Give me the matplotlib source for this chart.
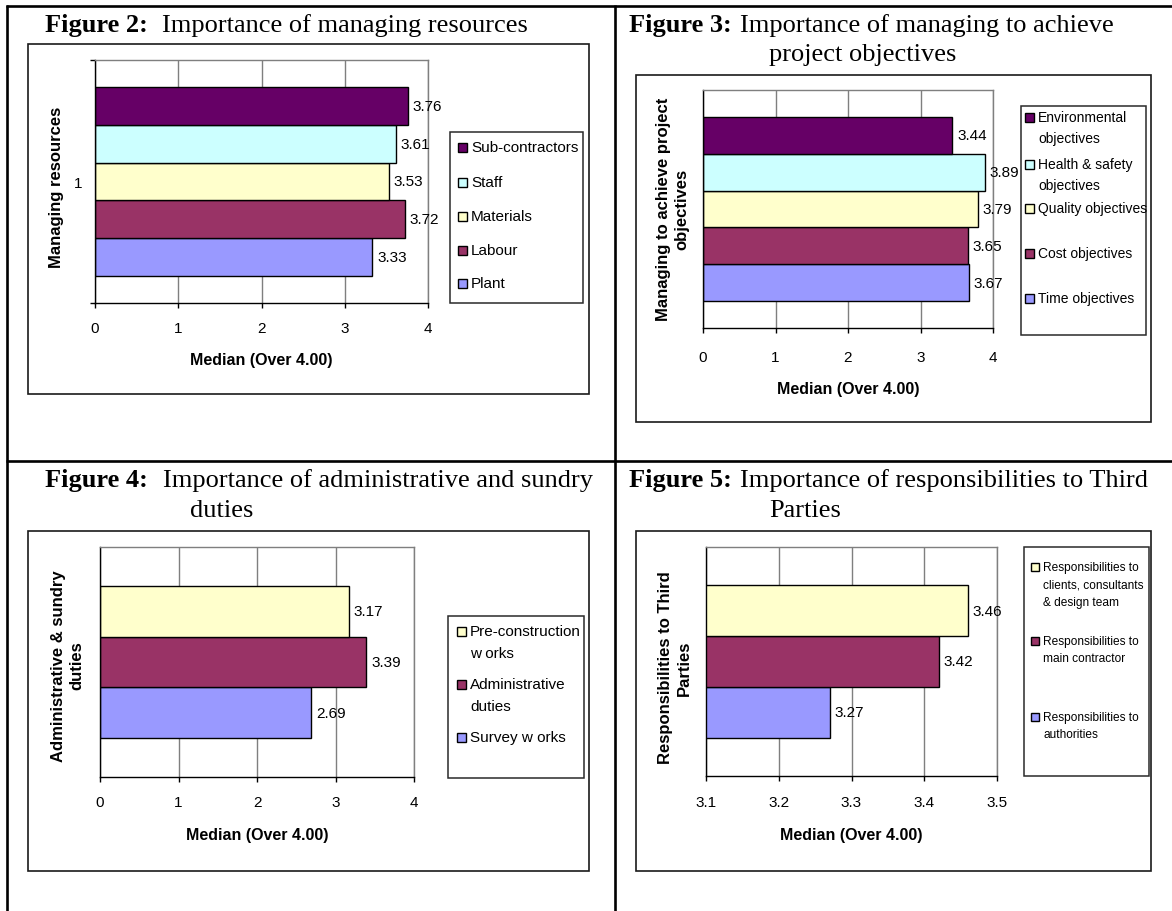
import matplotlib
matplotlib.use("Agg")
import matplotlib.pyplot as plt
from matplotlib.patches import Rectangle
from matplotlib.lines import Line2D
from matplotlib import font_manager

# ---------------- data ----------------
fig2_categories = ['Plant', 'Labour', 'Materials', 'Staff', 'Sub-contractors']
fig2_values = [3.33, 3.72, 3.53, 3.61, 3.76]
fig2_yticklabels = ['1']

fig3_categories = ['Time objectives', 'Cost objectives', 'Quality objectives',
                   'Health & safety\nobjectives', 'Environmental\nobjectives']
fig3_values = [3.67, 3.65, 3.79, 3.89, 3.44]

fig4_categories = ['Survey w orks', 'Administrative\nduties', 'Pre-construction\nw orks']
fig4_values = [2.69, 3.39, 3.17]

fig5_categories = ['Responsibilities to\nauthorities', 'Responsibilities to\nmain contractor',
                   'Responsibilities to\nclients, consultants\n& design team']
fig5_values = [3.27, 3.42, 3.46]

xticks_0_4 = [0, 1, 2, 3, 4]
fig5_xticks = [3.1, 3.2, 3.3, 3.4, 3.5]

series_colors = ['#9999FF', '#993366', '#FFFFCC', '#CCFFFF', '#660066']

titles = [
    ('Figure 2:', 'Importance of managing resources', None),
    ('Figure 3:', 'Importance of managing to achieve', 'project objectives'),
    ('Figure 4:', 'Importance of administrative and sundry', 'duties'),
    ('Figure 5:', 'Importance of responsibilities to Third', 'Parties'),
]
ylabels = ['Managing resources', 'Managing to achieve project\nobjectives',
           'Administrative & sundry\nduties', 'Responsibilities to Third\nParties']
xlabel_text = 'Median (Over 4.00)'

# ---------------- layout ----------------
W, H = 1172, 912
fig = plt.figure(figsize=(W / 100, H / 100), dpi=100)
fig.patch.set_facecolor('white')

SANS = 'Liberation Sans'
SERIF = 'Liberation Serif'
names = {f.name for f in font_manager.fontManager.ttflist}
if 'Liberation Sans Narrow' in names:
    NARROW, NARROW_SIZE = 'Liberation Sans Narrow', 10
else:
    NARROW, NARROW_SIZE = SANS, 8.6


def fx(x):
    return x / W


def fy(y):
    return 1 - y / H


def ftext(x, y, s, **kw):
    return fig.text(fx(x), fy(y), s, **kw)


def frect(x0, y0, x1, y1, **kw):
    r = Rectangle((fx(x0), fy(y1)), (x1 - x0) / W, (y1 - y0) / H,
                  transform=fig.transFigure, **kw)
    fig.patches.append(r)
    return r


def fline(xs, ys, **kw):
    fig.lines.append(Line2D([fx(x) for x in xs], [fy(y) for y in ys],
                            transform=fig.transFigure, **kw))


# outer table lines
tbl = dict(color='black', lw=1.9, solid_capstyle='butt')
fline([7, 7], [6, H], **tbl)
fline([6, W], [7, 7], **tbl)
fline([615, 615], [6, H], **tbl)
fline([6, W], [462, 462], **tbl)

panels = [
    dict(cats=fig2_categories, vals=fig2_values, xlim=(0, 4), xticks=xticks_0_4, fmt='{:.0f}',
         box=(28, 45, 589, 395), plot=(95, 61, 428, 304), group=0.774, tickpad=9.7,
         title_xy=(45, 162, 32), title2=None,
         ylab=(57, 187), xlab_y=361,
         leg_box=(450, 133, 583, 304), leg_y=[148, 183, 217, 251, 284], leg_lh=20,
         leg_mx=462, leg_tx=471, leg_font=(SANS, 11), msize=9),
    dict(cats=fig3_categories, vals=fig3_values, xlim=(0, 4), xticks=xticks_0_4, fmt='{:.0f}',
         box=(636, 76, 1151, 423), plot=(703, 91, 993, 329), group=0.773, tickpad=12.6,
         title_xy=(629, 740, 32), title2=(769, 61),
         ylab=(673, 209), xlab_y=390,
         leg_box=(1021, 107, 1146, 336), leg_y=[118, 165, 209, 254, 299], leg_lh=21,
         leg_mx=1029, leg_tx=1038, leg_font=(SANS, 10), msize=9),
    dict(cats=fig4_categories, vals=fig4_values, xlim=(0, 4), xticks=xticks_0_4, fmt='{:.0f}',
         box=(28, 532, 589, 872), plot=(100, 548, 414, 778), group=0.661, tickpad=9.7,
         title_xy=(45, 163, 487), title2=(190, 517),
         ylab=(68, 666), xlab_y=836,
         leg_box=(448, 617, 584, 779), leg_y=[632, 685, 738], leg_lh=22,
         leg_mx=461, leg_tx=470, leg_font=(SANS, 11), msize=9),
    dict(cats=fig5_categories, vals=fig5_values, xlim=(3.1, 3.5), xticks=fig5_xticks, fmt='{:.1f}',
         box=(636, 532, 1151, 872), plot=(706, 548, 997, 777), group=0.664, tickpad=10.4,
         title_xy=(629, 740, 487), title2=(769, 517),
         ylab=(675, 668), xlab_y=836,
         leg_box=(1024, 548, 1149, 777), leg_y=[568, 642, 718], leg_lh=17.5,
         leg_mx=1035, leg_tx=1043, leg_font=(NARROW, NARROW_SIZE), msize=8),
]

for i, p in enumerate(panels):
    cats, vals = p['cats'], p['vals']
    n = len(cats)
    cols = series_colors[:n]

    # chart box
    frect(*p['box'], fill=False, edgecolor='#1a1a1a', lw=1.2)

    # axes
    x0, y0, x1, y1 = p['plot']
    ax = fig.add_axes([fx(x0), fy(y1), (x1 - x0) / W, (y1 - y0) / H])
    ax.set_facecolor('white')
    ax.set_xlim(*p['xlim'])
    ax.set_ylim(-0.5, 0.5)
    g = p['group']
    bh = g / n
    ys = [-g / 2 + (k + 0.5) * bh for k in range(n)]
    ax.barh(ys, vals, height=bh, color=cols, edgecolor='black', linewidth=1.0, zorder=2)
    for yv, v in zip(ys, vals):
        ax.annotate(f'{v:.2f}', xy=(v, yv), xytext=(3.5, 0), textcoords='offset points',
                    ha='left', va='center', fontsize=11, family=SANS, zorder=4,
                    annotation_clip=False)

    ax.set_axisbelow(True)
    ax.xaxis.grid(True, color='#7f7f7f', lw=1.0)
    ax.set_xticks(p['xticks'])
    ax.set_xticklabels([p['fmt'].format(t) for t in p['xticks']], fontsize=11, family=SANS)
    ax.tick_params(axis='x', direction='out', length=3.6, width=1, color='black', pad=p['tickpad'])
    if i == 0:
        ax.set_yticks([0])
        ax.set_yticklabels(fig2_yticklabels, fontsize=11, family=SANS)
        ax.tick_params(axis='y', which='major', length=0, pad=9.4)
        ax.set_yticks([-0.5, 0.5], minor=True)
        ax.tick_params(axis='y', which='minor', length=3.6, width=1, color='black', direction='out')
    else:
        ax.set_yticks([])
    for s in ('left', 'bottom'):
        ax.spines[s].set_color('black')
        ax.spines[s].set_linewidth(1.0)
    for s in ('top', 'right'):
        ax.spines[s].set_color('#7f7f7f')
        ax.spines[s].set_linewidth(1.0)

    # axis titles
    ftext((x0 + x1) / 2, p['xlab_y'], xlabel_text, ha='center', va='center',
          fontsize=11.5, fontweight='bold', family=SANS)
    ftext(p['ylab'][0], p['ylab'][1], ylabels[i], ha='center', va='center', rotation=90,
          fontsize=12, fontweight='bold', family=SANS, multialignment='center', linespacing=1.3)

    # figure title
    bold, rest, line2 = titles[i]
    tx, rx, base = p['title_xy']
    ftext(tx, base, bold, ha='left', va='baseline', fontsize=19, fontweight='bold', family=SERIF)
    ftext(rx, base, rest, ha='left', va='baseline', fontsize=19, family=SERIF)
    if line2 is not None:
        ftext(p['title2'][0], p['title2'][1], line2, ha='left', va='baseline',
              fontsize=19, family=SERIF)

    # legend (top entry = last series)
    frect(*p['leg_box'], fill=False, edgecolor='#2a2a2a', lw=1.1)
    fam, fs = p['leg_font']
    ms = p['msize']
    order = list(range(n))[::-1]
    for k, yy in zip(order, p['leg_y']):
        frect(p['leg_mx'] - ms / 2, yy - ms / 2, p['leg_mx'] + ms / 2, yy + ms / 2,
              facecolor=cols[k], edgecolor='black', lw=1.0, zorder=3)
        for j, line in enumerate(cats[k].split('\n')):
            ftext(p['leg_tx'], yy + j * p['leg_lh'], line, ha='left', va='center',
                  fontsize=fs, family=fam)

fig.savefig('out.png', dpi=100, facecolor='white')
